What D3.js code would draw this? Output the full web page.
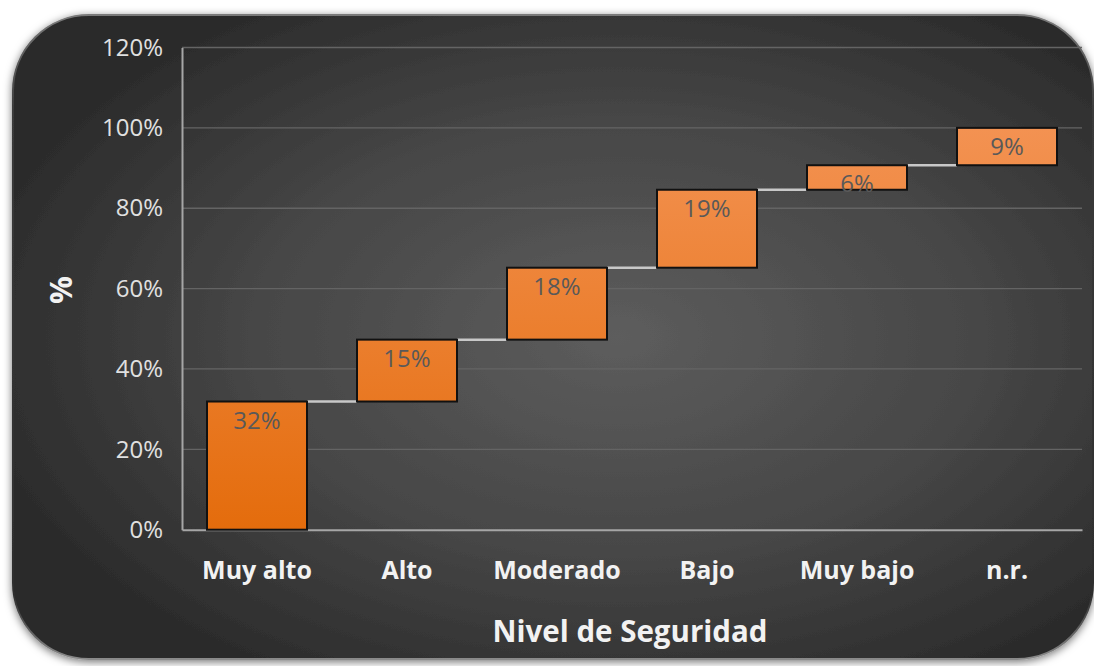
<!DOCTYPE html>
<html><head><meta charset="utf-8">
<script src="https://cdn.jsdelivr.net/npm/d3@7"></script>
<style>
html,body{margin:0;padding:0;background:#fff;}
svg{display:block;}
</style></head>
<body>
<svg id="chart" width="1094" height="666"></svg>
<script>
// ---- data ----
const categories = ["Muy alto","Alto","Moderado","Bajo","Muy bajo","n.r."];
const values = [31.9, 15.4, 17.9, 19.4, 6.1, 9.3];
const yTicks = [0,20,40,60,80,100,120];
const xTitle = "Nivel de Seguridad";
const yTitle = "%";

(function(){
const FONT = "'Open Sans', Lato, sans-serif";
const svg = d3.select("#chart");
const defs = svg.append("defs");

// panel gradient
const rg = defs.append("radialGradient").attr("id","bg")
  .attr("cx",0.56).attr("cy",0.5).attr("r",0.62);
rg.append("stop").attr("offset",0).attr("stop-color","#5d5d5d");
rg.append("stop").attr("offset",0.55).attr("stop-color","#464646");
rg.append("stop").attr("offset",1).attr("stop-color","#2a2a2a");

const sh = defs.append("filter").attr("id","shadow")
  .attr("x","-5%").attr("y","-5%").attr("width","110%").attr("height","110%");
sh.append("feDropShadow").attr("dx",0).attr("dy",2).attr("stdDeviation",4)
  .attr("flood-color","#000").attr("flood-opacity",0.55);

const edge = defs.append("linearGradient").attr("id","edge")
  .attr("x1",0).attr("y1",0).attr("x2",0).attr("y2",1);
edge.append("stop").attr("offset",0).attr("stop-color","#7a7a7a");
edge.append("stop").attr("offset",0.15).attr("stop-color","#3a3a3a");
edge.append("stop").attr("offset",0.9).attr("stop-color","#2e2e2e");
edge.append("stop").attr("offset",1).attr("stop-color","#8a8a8a");

svg.append("rect").attr("x",13).attr("y",15).attr("width",1080).attr("height",644)
  .attr("rx",76).attr("ry",76)
  .attr("fill","url(#bg)").attr("stroke","url(#edge)").attr("stroke-width",2)
  .attr("filter","url(#shadow)");

// scales
const pLeft = 182, pRight = 1082, pTop = 47.5, pBottom = 529.7;
const x = d3.scaleBand().domain(categories).range([pLeft,pRight]).paddingInner(1/3).paddingOuter(1/6);
const y = d3.scaleLinear().domain([0,120]).range([pBottom, pTop]);

// bar gradient
const barG = defs.append("linearGradient").attr("id","barg")
  .attr("gradientUnits","userSpaceOnUse")
  .attr("x1",0).attr("x2",0).attr("y1",y(0)).attr("y2",y(100));
barG.append("stop").attr("offset",0).attr("stop-color","#e46c0c");
barG.append("stop").attr("offset",1).attr("stop-color","#f39252");

// gridlines
svg.append("g").selectAll("line").data(yTicks.filter(d=>d>0)).join("line")
  .attr("x1",pLeft).attr("x2",pRight)
  .attr("y1",d=>y(d)).attr("y2",d=>y(d))
  .attr("stroke","#646464").attr("stroke-width",1.3);

// y axis
const yAxis = d3.axisLeft(y).tickValues(yTicks).tickFormat(d=>d+"%").tickSize(0).tickPadding(19);
const ya = svg.append("g").attr("transform",`translate(${pLeft},0)`).call(yAxis);
ya.select(".domain").attr("stroke","#a6a6a6").attr("stroke-width",2);
ya.selectAll("text").attr("fill","#e0e0e0").style("font-family",FONT)
  .style("font-size","24px");

// x axis
const xAxis = d3.axisBottom(x).tickSize(0).tickPadding(32);
const xa = svg.append("g").attr("transform",`translate(0,${pBottom})`).call(xAxis);
xa.select(".domain").attr("stroke","#a6a6a6").attr("stroke-width",2);
xa.selectAll("text").attr("fill","#f2f2f2").style("font-family",FONT)
  .style("font-size","25px").style("font-weight","bold");

// waterfall
let cum = 0;
const bars = values.map((v,i)=>{ const b={cat:categories[i], v, start:cum, end:cum+v}; cum+=v; return b; });

// connectors
svg.append("g").selectAll("line").data(bars.slice(0,-1)).join("line")
  .attr("x1",d=>x(d.cat)+x.bandwidth()).attr("x2",(d,i)=>x(bars[i+1].cat))
  .attr("y1",d=>y(d.end)).attr("y2",d=>y(d.end))
  .attr("stroke","#c8c8c8").attr("stroke-width",2.5);

svg.append("g").selectAll("rect").data(bars).join("rect")
  .attr("x",d=>x(d.cat)).attr("width",x.bandwidth())
  .attr("y",d=>y(d.end)).attr("height",d=>y(d.start)-y(d.end))
  .attr("fill","url(#barg)").attr("stroke","#111").attr("stroke-width",2);

svg.append("g").selectAll("text").data(bars).join("text")
  .attr("x",d=>x(d.cat)+x.bandwidth()/2).attr("y",d=>y(d.end)+27)
  .attr("text-anchor","middle").attr("fill","#595959")
  .style("font-family",FONT).style("font-size","24px")
  .text(d=>d3.format(".0f")(d.v)+"%");

// titles
svg.append("text").attr("x",630).attr("y",642).attr("text-anchor","middle")
  .attr("fill","#f2f2f2").style("font-family",FONT)
  .style("font-size","29.5px").style("font-weight","bold").text(xTitle);
svg.append("text").attr("transform","translate(72,290) rotate(-90)").attr("text-anchor","middle")
  .attr("fill","#f2f2f2").style("font-family",FONT)
  .style("font-size","31px").style("font-weight","bold").text(yTitle);
})();
</script>
</body></html>
